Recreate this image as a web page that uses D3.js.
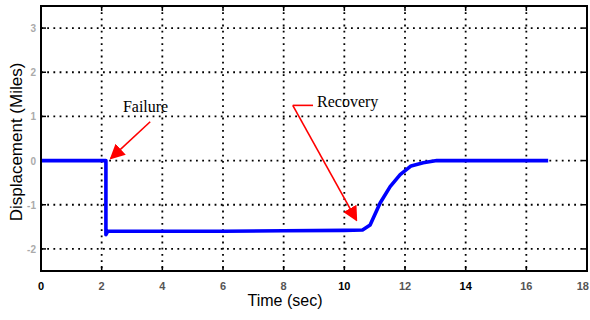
<!DOCTYPE html>
<html>
<head>
<meta charset="utf-8">
<script src="https://cdn.jsdelivr.net/npm/d3@7"></script>
<style>
  body { margin: 0; background: #fff; }
  svg { display: block; }
  .grid line { stroke: #000; stroke-width: 1.8; stroke-dasharray: 1.8 4.4; }
</style>
</head>
<body>
<svg id="chart" width="590" height="320"></svg>
<script>
// time (sec) and displacement (Miles)
const times = [0, 0.5, 1, 1.5, 2.14, 2.14, 2.2, 4, 6, 8, 10, 10.6, 10.85, 11.18, 11.51, 11.84, 12.2, 12.6, 13.05, 14, 15, 16, 16.72];
const disp  = [0, 0, 0, 0, 0, -1.68, -1.6, -1.6, -1.6, -1.59, -1.58, -1.57, -1.46, -0.96, -0.59, -0.32, -0.12, -0.05, 0, 0, 0, 0, 0];

const xTicks = [0, 2, 4, 6, 8, 10, 12, 14, 16, 18];
const yTicks = [3, 2, 1, 0, -1, -2];

const notes = [
  { label: 'Failure', tx: 2.7, ty: 1.1, from: [3.6, 0.88], to: [2.3, 0.05], bend: null },
  { label: 'Recovery', tx: 9.1, ty: 1.22, from: [8.3, 1.25], to: [10.4, -1.35], bend: [9.1, 1.25] }
];

const svg = d3.select('#chart');
const m = { left: 41, right: 587, top: 6, bottom: 271 };

const x = d3.scaleLinear().domain([0, 18]).range([m.left, m.right]);
const y = d3.scaleLinear().domain([-2.5, 3.5]).range([m.bottom, m.top]);

// dotted grid
const grid = svg.append('g').attr('class', 'grid');
grid.selectAll('.gx').data(xTicks.slice(1, -1)).enter().append('line')
  .attr('x1', d => x(d)).attr('x2', d => x(d))
  .attr('y1', m.top).attr('y2', m.bottom);
grid.selectAll('.gy').data(yTicks).enter().append('line')
  .attr('x1', m.left).attr('x2', m.right)
  .attr('y1', d => y(d)).attr('y2', d => y(d));

// ticks on all four sides, pointing inward
const tk = svg.append('g').attr('stroke', '#000').attr('stroke-width', 1.5);
xTicks.forEach(function (d) {
  tk.append('line').attr('x1', x(d)).attr('x2', x(d)).attr('y1', m.bottom).attr('y2', m.bottom - 5);
  tk.append('line').attr('x1', x(d)).attr('x2', x(d)).attr('y1', m.top).attr('y2', m.top + 5);
});
yTicks.forEach(function (d) {
  tk.append('line').attr('x1', m.left).attr('x2', m.left + 5).attr('y1', y(d)).attr('y2', y(d));
  tk.append('line').attr('x1', m.right).attr('x2', m.right - 5).attr('y1', y(d)).attr('y2', y(d));
});

// tick labels
svg.append('g').selectAll('text').data(xTicks).enter().append('text')
  .attr('x', (d, i) => i === xTicks.length - 1 ? 589 : x(d)).attr('y', 290)
  .attr('text-anchor', (d, i) => i === xTicks.length - 1 ? 'end' : 'middle')
  .attr('font-family', 'Liberation Sans Narrow, Liberation Sans, Arial, sans-serif')
  .attr('font-size', 11).attr('font-weight', 'bold')
  .attr('fill', d => d === 0 || d === 10 || d === 14 ? '#000' : '#555')
  .text(d => d);

svg.append('g').selectAll('text').data(yTicks).enter().append('text')
  .attr('x', 36).attr('y', d => y(d) + 4)
  .attr('text-anchor', 'end')
  .attr('font-family', 'Liberation Sans Narrow, Liberation Sans, Arial, sans-serif')
  .attr('font-size', 10).attr('font-weight', 'bold')
  .attr('fill', '#aaa')
  .text(d => d);

// axis titles
svg.append('text')
  .attr('x', 285).attr('y', 306)
  .attr('text-anchor', 'middle')
  .attr('font-family', 'Liberation Sans, Arial, sans-serif')
  .attr('font-size', 16)
  .text('Time (sec)');

svg.append('text')
  .attr('transform', 'translate(22,142) rotate(-90)')
  .attr('text-anchor', 'middle')
  .attr('font-family', 'Liberation Sans, Arial, sans-serif')
  .attr('font-size', 17)
  .text('Displacement (Miles)');

// signal
const line = d3.line().x((d, i) => x(times[i])).y(d => y(d));
svg.append('path')
  .datum(disp)
  .attr('fill', 'none')
  .attr('stroke', '#0000ff')
  .attr('stroke-width', 3.6)
  .attr('stroke-linejoin', 'round')
  .attr('d', line);

// frame
svg.append('rect')
  .attr('x', m.left).attr('y', m.top)
  .attr('width', m.right - m.left).attr('height', m.bottom - m.top)
  .attr('fill', 'none').attr('stroke', '#000').attr('stroke-width', 2);

// annotations
svg.append('defs').append('marker')
  .attr('id', 'head').attr('viewBox', '0 0 10 10')
  .attr('refX', 9).attr('refY', 5)
  .attr('markerWidth', 15).attr('markerHeight', 15)
  .attr('markerUnits', 'userSpaceOnUse')
  .attr('orient', 'auto')
  .append('path').attr('d', 'M0,0 L10,5 L0,10 Z').attr('fill', '#ff0000');

notes.forEach(function (n) {
  svg.append('text')
    .attr('x', x(n.tx)).attr('y', y(n.ty))
    .attr('font-family', 'Liberation Serif, Times New Roman, serif')
    .attr('font-size', 16)
    .text(n.label);
  if (n.bend) {
    svg.append('line')
      .attr('x1', x(n.from[0])).attr('y1', y(n.from[1]))
      .attr('x2', x(n.bend[0]) - 4).attr('y2', y(n.bend[1]))
      .attr('stroke', '#ff0000').attr('stroke-width', 1.6);
  }
  svg.append('line')
    .attr('x1', x(n.from[0])).attr('y1', y(n.from[1]))
    .attr('x2', x(n.to[0])).attr('y2', y(n.to[1]))
    .attr('stroke', '#ff0000').attr('stroke-width', 1.6)
    .attr('marker-end', 'url(#head)');
});
</script>
</body>
</html>
